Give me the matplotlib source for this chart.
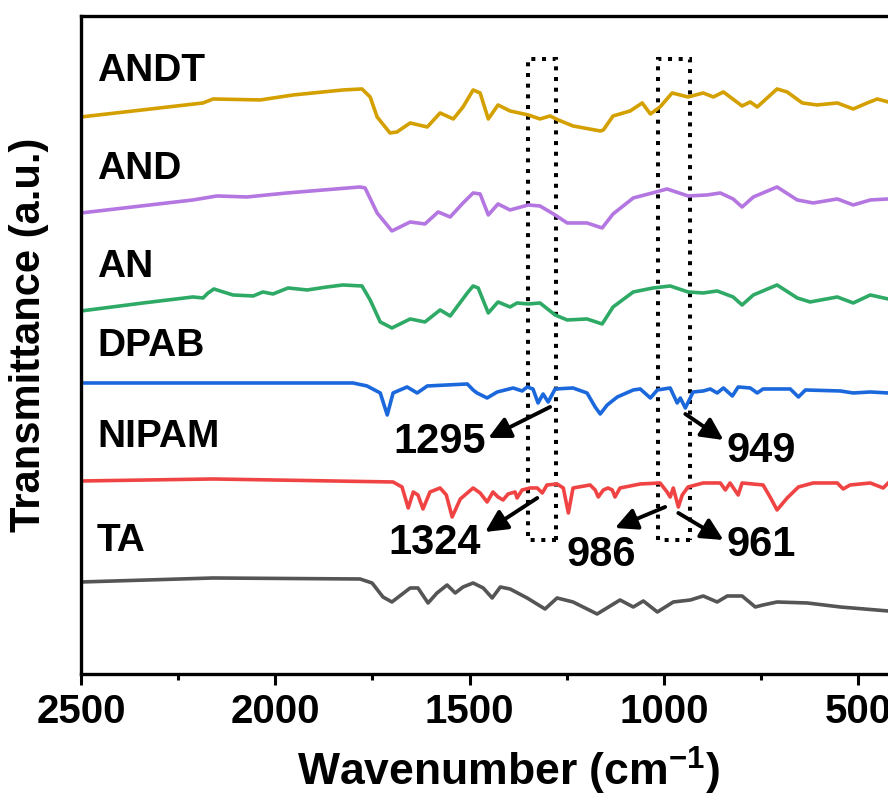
import numpy as np
import matplotlib
matplotlib.use('Agg')
import matplotlib.pyplot as plt
from matplotlib.patches import Rectangle

plt.rcParams['font.family'] = ['Liberation Sans', 'DejaVu Sans']
plt.rcParams['font.weight'] = 'bold'
plt.rcParams['mathtext.fontset'] = 'custom'
plt.rcParams['mathtext.rm'] = 'Liberation Sans:bold'
plt.rcParams['mathtext.bf'] = 'Liberation Sans:bold'

# FTIR spectra (wavenumber cm-1, transmittance a.u. incl. vertical offset)
andt_w = [2500, 2186, 2160, 2039, 1954, 1826, 1777, 1756, 1738, 1705, 1687, 1653, 1609, 1576, 1542, 1517, 1491,
          1473, 1452, 1427, 1396, 1349, 1319, 1293, 1272, 1234, 1164, 1156, 1131, 1087, 1056, 1035, 1010, 979, 938,
          899, 873, 847, 799, 778, 760, 709, 683, 644, 606, 554, 513, 477, 451, 423]
andt_t = [557, 571, 575, 574, 579, 584, 585, 577, 557, 541, 542, 551, 547, 561, 555, 567, 584, 581, 555, 569, 563,
          559, 555, 558, 554, 548, 543, 544, 558, 563, 571, 560, 567, 581, 577, 581, 577, 582, 568, 572, 567, 585,
          582, 571, 569, 571, 565, 571, 575, 572]

and_w = [2500, 2212, 2150, 2073, 1970, 1782, 1769, 1738, 1700, 1653, 1615, 1581, 1550, 1517, 1491, 1473, 1452,
         1427, 1396, 1349, 1319, 1280, 1249, 1198, 1159, 1131, 1079, 1030, 992, 938, 889, 855, 822, 799, 770, 709,
         657, 616, 554, 513, 469, 423]
and_t = [461, 474, 478, 477, 481, 487, 486, 461, 443, 452, 450, 462, 457, 471, 481, 480, 459, 470, 464, 469, 468,
         459, 451, 451, 446, 460, 476, 481, 485, 478, 479, 481, 475, 467, 477, 487, 474, 471, 475, 469, 474, 475]

an_w = [2500, 2340, 2212, 2186, 2173, 2158, 2142, 2109, 2057, 2032, 2006, 1967, 1918, 1867, 1826, 1777, 1756,
        1730, 1700, 1653, 1615, 1576, 1550, 1506, 1491, 1478, 1452, 1427, 1396, 1378, 1349, 1319, 1280, 1249, 1198,
        1159, 1131, 1079, 1028, 984, 938, 899, 863, 822, 799, 770, 709, 657, 624, 554, 513, 469, 423]
an_t = [363, 371, 377, 376, 381, 385, 383, 379, 378, 382, 380, 386, 384, 387, 389, 388, 374, 352, 346, 355, 352,
        364, 358, 381, 388, 386, 361, 372, 367, 371, 370, 371, 359, 354, 355, 350, 367, 382, 386, 388, 382, 381,
        383, 377, 369, 379, 389, 376, 372, 377, 371, 379, 375]

dpab_w = [2500, 1800, 1764, 1730, 1712, 1697, 1661, 1635, 1609, 1506, 1491, 1481, 1455, 1429, 1388, 1365, 1352,
          1337, 1324, 1311, 1298, 1280, 1234, 1198, 1177, 1164, 1146, 1120, 1079, 1061, 1035, 1017, 984, 966, 958,
          945, 925, 899, 881, 863, 847, 824, 809, 778, 760, 745, 675, 654, 636, 546, 513, 469, 423]
dpab_t = [291, 291, 288, 281, 259, 281, 287, 281, 288, 290, 284, 281, 276, 282, 286, 283, 287, 285, 271, 280, 272,
          285, 286, 281, 267, 260, 269, 277, 284, 285, 276, 284, 286, 271, 276, 266, 282, 283, 285, 281, 286, 278,
          287, 286, 281, 285, 285, 277, 284, 283, 281, 282, 281]

nipam_w = [2500, 2160, 1697, 1674, 1658, 1645, 1633, 1620, 1602, 1576, 1560, 1545, 1524, 1491, 1473, 1455, 1440,
           1427, 1414, 1401, 1383, 1378, 1365, 1344, 1326, 1313, 1301, 1275, 1259, 1246, 1234, 1190, 1177, 1169,
           1156, 1144, 1133, 1126, 1113, 1061, 1010, 992, 984, 976, 963, 953, 938, 899, 855, 842, 830, 809, 799,
           745, 727, 709, 683, 654, 616, 554, 539, 521, 469, 436, 423]
nipam_t = [193, 195, 192, 187, 166, 182, 179, 165, 182, 186, 179, 157, 175, 186, 181, 172, 182, 177, 174, 180,
           182, 176, 184, 186, 186, 181, 189, 190, 186, 161, 186, 189, 184, 177, 184, 186, 184, 177, 186, 190, 191,
           182, 177, 186, 167, 179, 187, 191, 191, 184, 191, 179, 191, 189, 177, 164, 176, 187, 191, 191, 185, 189,
           191, 186, 191]

ta_w = [2500, 2160, 1782, 1751, 1723, 1700, 1653, 1633, 1607, 1584, 1558, 1537, 1517, 1491, 1465, 1442, 1421,
        1396, 1352, 1306, 1275, 1234, 1172, 1113, 1079, 1053, 1017, 976, 932, 899, 863, 837, 799, 765, 745, 709,
        631, 546, 423]
ta_t = [92, 96, 95, 91, 77, 72, 86, 86, 71, 81, 89, 81, 87, 91, 86, 76, 87, 85, 76, 65, 76, 72, 60, 74, 67, 73,
        62, 72, 74, 78, 72, 78, 78, 67, 69, 72, 71, 67, 63]

names = ['ANDT', 'AND', 'AN', 'DPAB', 'NIPAM', 'TA']
colors = ['#D4A000', '#B476E0', '#2EAA66', '#1B68DC', '#F04444', '#555555']
label_y = [603, 505, 407, 328, 237, 133]

# peak annotations: text, tail (w, t), head (w, t), label position
peak_txt = ['1295', '1324', '949', '986', '961']
peak_tail = [(1293, 267), (1326, 176), (945, 260), (997, 167), (963, 161)]
peak_head = [(1452, 236), (1460, 142), (847, 234), (1126, 146), (847, 134)]
peak_pos = [(1576, 232), (1591, 131), (750, 223), (1162, 119), (750, 129)]

# dotted boxes (wavenumber range)
boxes = [(1349, 1277), (1015, 932)]
box_t = (134, 615)

fig = plt.figure(figsize=(8.88, 7.98), dpi=100)
ax = fig.add_axes([0.0912, 0.1554, 0.962, 0.8246])

spectra = [(andt_w, andt_t), (and_w, and_t), (an_w, an_t), (dpab_w, dpab_t), (nipam_w, nipam_t), (ta_w, ta_t)]
for (w, t), c, n, ly in zip(spectra, colors, names, label_y):
    ax.plot(w, t, color=c, lw=2.6, solid_joinstyle='round')
    ax.text(2459, ly, n, fontsize=28, fontweight='bold', va='center', ha='left')

for x0, x1 in boxes:
    ax.add_patch(Rectangle((x1, box_t[0]), x0 - x1, box_t[1] - box_t[0], fill=False,
                           ls=':', lw=2.9, ec='black'))

for s, tail, head, pos in zip(peak_txt, peak_tail, peak_head, peak_pos):
    ax.annotate('', xy=head, xytext=tail,
                arrowprops=dict(arrowstyle='-|>', lw=2.8, color='black', mutation_scale=33,
                                shrinkA=0, shrinkB=0))
    ax.text(pos[0], pos[1], s, fontsize=30, fontweight='bold', ha='center', va='center')

ax.set_xlim(2500, 302)
ax.set_ylim(0, 658)
ax.set_xticks([2500, 2000, 1500, 1000, 500])
ax.set_xticks([2250, 1750, 1250, 750], minor=True)
ax.set_yticks([])
ax.tick_params(axis='x', which='major', length=8, width=2.2, labelsize=29, pad=6)
ax.tick_params(axis='x', which='minor', length=4, width=2.2)
for sp in ax.spines.values():
    sp.set_linewidth(2.4)
ax.spines['right'].set_visible(False)
for lab in ax.get_xticklabels():
    lab.set_fontweight('bold')

ax.set_xlabel(r'Wavenumber (cm$^{\mathbf{-1}}$)', fontsize=32, fontweight='bold', labelpad=10)
ax.set_ylabel('Transmittance (a.u.)', fontsize=30, fontweight='bold')
ax.yaxis.set_label_coords(-0.037, 0.515)

fig.savefig('out.png', dpi=100)
